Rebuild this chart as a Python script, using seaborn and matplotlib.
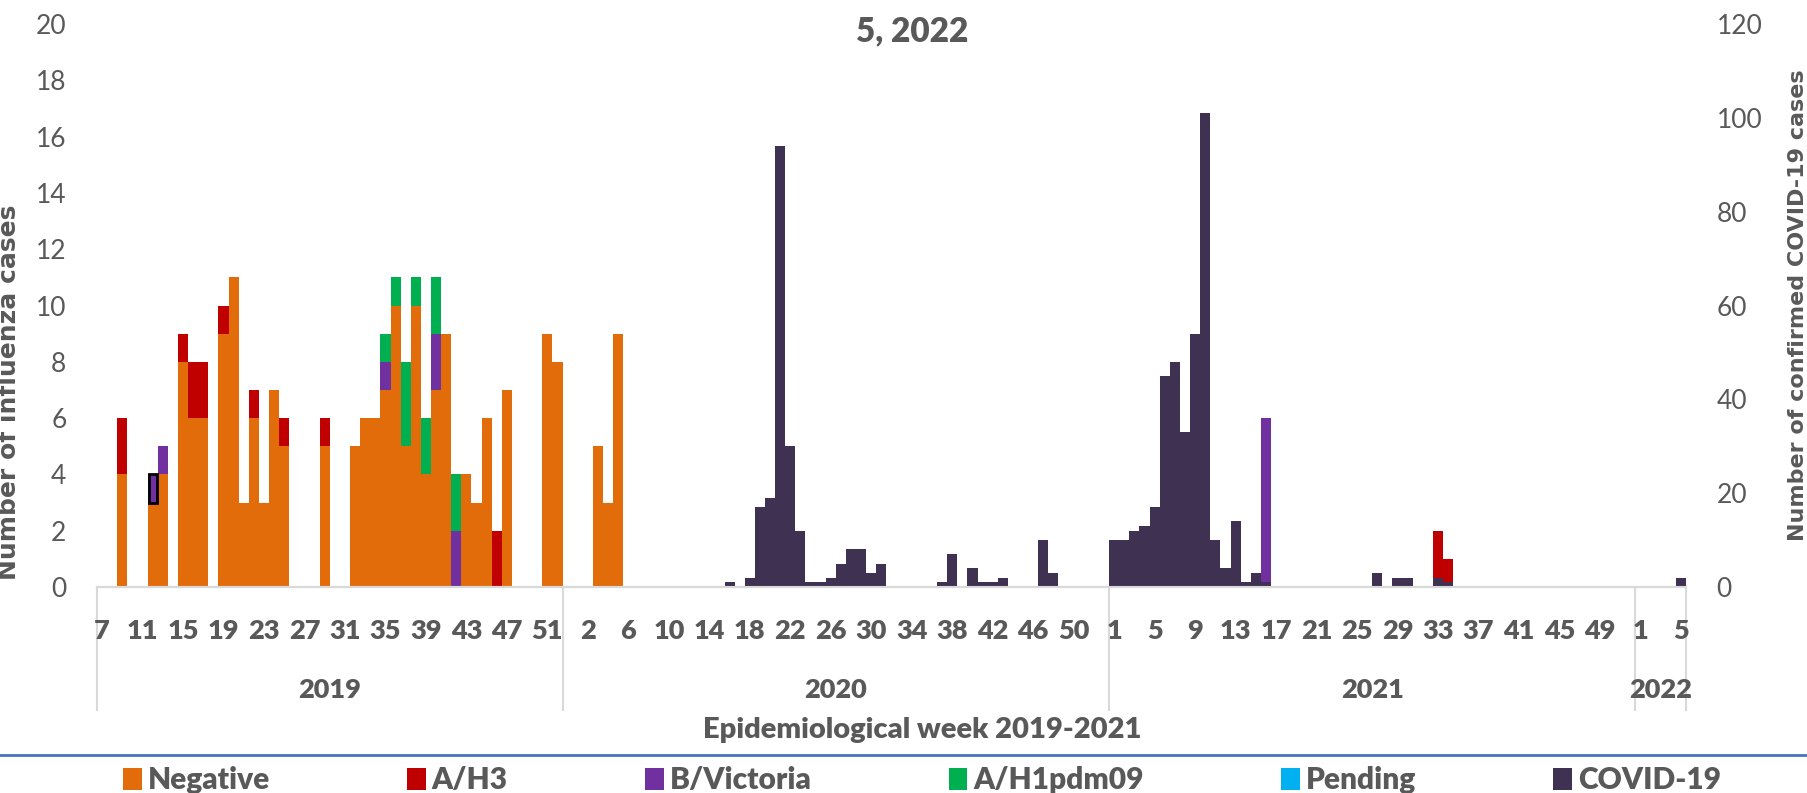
import numpy as np
import pandas as pd
import matplotlib
matplotlib.use("Agg")
import matplotlib.pyplot as plt
from matplotlib.lines import Line2D
from matplotlib.patches import Patch
import seaborn as sns

# ---------------- data ----------------
years = ["2019", "2020", "2021", "2022"]
weeks_2019 = list(range(7, 53))
weeks_2020 = list(range(0, 54))
weeks_2021 = list(range(1, 53))
weeks_2022 = list(range(1, 6))

negative = {("2019", 9): 4, ("2019", 12): 3, ("2019", 13): 4, ("2019", 15): 8,
            ("2019", 16): 6, ("2019", 17): 6, ("2019", 19): 9, ("2019", 20): 11,
            ("2019", 21): 3, ("2019", 22): 6, ("2019", 23): 3, ("2019", 24): 7,
            ("2019", 25): 5, ("2019", 29): 5, ("2019", 32): 5, ("2019", 33): 6,
            ("2019", 34): 6, ("2019", 35): 7, ("2019", 36): 10, ("2019", 37): 5,
            ("2019", 38): 10, ("2019", 39): 4, ("2019", 40): 7, ("2019", 41): 9,
            ("2019", 43): 4, ("2019", 44): 3, ("2019", 45): 6, ("2019", 47): 7,
            ("2019", 51): 9, ("2019", 52): 8,
            ("2020", 3): 5, ("2020", 4): 3, ("2020", 5): 9}
a_h3 = {("2019", 9): 2, ("2019", 15): 1, ("2019", 16): 2, ("2019", 17): 2,
        ("2019", 19): 1, ("2019", 22): 1, ("2019", 25): 1, ("2019", 29): 1,
        ("2019", 46): 2, ("2021", 33): 2, ("2021", 34): 1}
b_victoria = {("2019", 12): 1, ("2019", 13): 1, ("2019", 35): 1, ("2019", 40): 2,
              ("2019", 42): 2, ("2021", 16): 6}
a_h1pdm09 = {("2019", 35): 1, ("2019", 36): 1, ("2019", 37): 3, ("2019", 38): 1,
             ("2019", 39): 2, ("2019", 40): 2, ("2019", 42): 2}
pending = {}
covid19 = {("2020", 16): 1, ("2020", 18): 2, ("2020", 19): 17, ("2020", 20): 19,
           ("2020", 21): 94, ("2020", 22): 30, ("2020", 23): 12, ("2020", 24): 1,
           ("2020", 25): 1, ("2020", 26): 2, ("2020", 27): 5, ("2020", 28): 8,
           ("2020", 29): 8, ("2020", 30): 3, ("2020", 31): 5, ("2020", 37): 1,
           ("2020", 38): 7, ("2020", 40): 4, ("2020", 41): 1, ("2020", 42): 1,
           ("2020", 43): 2, ("2020", 47): 10, ("2020", 48): 3,
           ("2021", 1): 10, ("2021", 2): 10, ("2021", 3): 12, ("2021", 4): 13,
           ("2021", 5): 17, ("2021", 6): 45, ("2021", 7): 48, ("2021", 8): 33,
           ("2021", 9): 54, ("2021", 10): 101, ("2021", 11): 10, ("2021", 12): 4,
           ("2021", 13): 14, ("2021", 14): 1, ("2021", 15): 3, ("2021", 16): 1,
           ("2021", 27): 3, ("2021", 29): 2, ("2021", 30): 2, ("2021", 33): 2,
           ("2021", 34): 1, ("2022", 5): 2}
highlighted = [("2019", 12)]   # selected B/Victoria point (outlined)

series_names = ["Negative", "A/H3", "B/Victoria", "A/H1pdm09", "Pending"]
series_data = [negative, a_h3, b_victoria, a_h1pdm09, pending]
colors = {"Negative": "#E36C0A", "A/H3": "#C00000", "B/Victoria": "#7030A0",
          "A/H1pdm09": "#00B050", "Pending": "#00B0F0", "COVID-19": "#3F3151"}

# ---------------- table ----------------
rows = []
for yr, wks in zip(years, [weeks_2019, weeks_2020, weeks_2021, weeks_2022]):
    for w in wks:
        rows.append({"year": yr, "week": w})
df = pd.DataFrame(rows)
df["pos"] = np.arange(len(df))
for name, d in zip(series_names, series_data):
    df[name] = [d.get((y, w), 0) for y, w in zip(df["year"], df["week"])]
df["COVID-19"] = [covid19.get((y, w), 0) for y, w in zip(df["year"], df["week"])]
cum = df[series_names].cumsum(axis=1)

TXT = "#595959"
HEAVY = "heavy"
plt.rcParams["font.family"] = ["Lato", "DejaVu Sans"]

fig = plt.figure(figsize=(18.08, 7.93), dpi=100)
ax = fig.add_axes([97 / 1808, 1 - 587 / 793, (1686 - 97) / 1808, (587 - 24) / 793])

# stacked influenza bars: draw cumulative totals from top layer down
for name in reversed(series_names):
    tmp = pd.DataFrame({"pos": df["pos"], "val": cum[name]})
    sns.barplot(data=tmp, x="pos", y="val", ax=ax, color=colors[name], width=1.0,
                saturation=1, errorbar=None, linewidth=0)

# outlined (selected) segment
for key in highlighted:
    r = df[(df["year"] == key[0]) & (df["week"] == key[1])].iloc[0]
    base = cum.loc[r.name, "A/H3"]
    ax.bar(r["pos"], r["B/Victoria"], bottom=base, width=0.8, fill=False,
           edgecolor="black", linewidth=2, zorder=5)

ax2 = ax.twinx()
sns.barplot(data=df, x="pos", y="COVID-19", ax=ax2, color=colors["COVID-19"],
            width=1.0, saturation=1, errorbar=None, linewidth=0)

n = len(df)
for a in (ax, ax2):
    a.set_xlim(-0.5, n - 0.5)
    for s in ("top", "left", "right"):
        a.spines[s].set_visible(False)
    a.spines["bottom"].set_color("#D9D9D9")
    a.spines["bottom"].set_linewidth(1.5)
    a.tick_params(axis="x", length=0, labelbottom=False)
    a.set_xlabel("")
ax.set_ylim(0, 20)
ax2.set_ylim(0, 120)
ax.set_yticks(np.arange(0, 21, 2))
ax2.set_yticks(np.arange(0, 121, 20))
ax.tick_params(axis="y", length=0, pad=22, labelsize=19, labelcolor=TXT)
ax2.tick_params(axis="y", length=0, pad=22, labelsize=19, labelcolor=TXT)

ax.set_ylabel("Number of influenza cases", fontsize=18, fontweight="bold",
              color=TXT, family="DejaVu Sans")
ax.yaxis.set_label_coords(-(97 - 21) / (1686 - 97), (587 - 392) / 563)
ax2.set_ylabel("Number of confirmed COVID-19 cases", fontsize=16, fontweight="bold",
               color=TXT, family="DejaVu Sans")
ax2.yaxis.set_label_coords(1 + (1788 - 1686) / (1686 - 97), 0.50)

# multi-level category axis: week labels, year separators and year labels
trans = ax.get_xaxis_transform()
for i in range(0, n, 4):
    ax.text(df["pos"].iloc[i], -(619 - 587) / 563, str(df["week"].iloc[i]),
            transform=trans, ha="center", va="top", fontsize=19.5,
            fontweight=HEAVY, color=TXT)

bounds = [-0.5]
for yr in years:
    bounds.append(df.index[df["year"] == yr].max() + 0.5)
for b in bounds:
    ax.add_line(Line2D([b, b], [0, -(710 - 587) / 563], transform=trans,
                       color="#D9D9D9", lw=1.5, clip_on=False))
for i, yr in enumerate(years):
    ax.text((bounds[i] + bounds[i + 1]) / 2, -(690 - 587) / 563, yr, transform=trans,
            ha="center", va="center", fontsize=19.5, fontweight=HEAVY, color=TXT)

fig.text(922 / 1808, 1 - 730 / 793, "Epidemiological week 2019-2021", ha="center",
         va="center", fontsize=21, fontweight=HEAVY, color=TXT)
fig.text(912 / 1808, 1 - 31 / 793, "5, 2022", ha="center", va="center",
         fontsize=24, fontweight=HEAVY, color=TXT)

fig.add_artist(Line2D([0, 1], [1 - 755 / 793] * 2, transform=fig.transFigure,
                      color="#4472C4", lw=2))

handles = [Patch(facecolor=colors[k], edgecolor="none")
           for k in series_names + ["COVID-19"]]
fig.legend(handles, series_names + ["COVID-19"], loc="center",
           bbox_to_anchor=(922 / 1808, 1 - 780 / 793), ncol=6, frameon=False,
           prop={"size": 21.5, "weight": HEAVY}, labelcolor=TXT,
           handlelength=0.62, handleheight=0.75, handletextpad=0.2,
           columnspacing=4.6, borderpad=0, borderaxespad=0)

fig.savefig("out.png", dpi=100)
